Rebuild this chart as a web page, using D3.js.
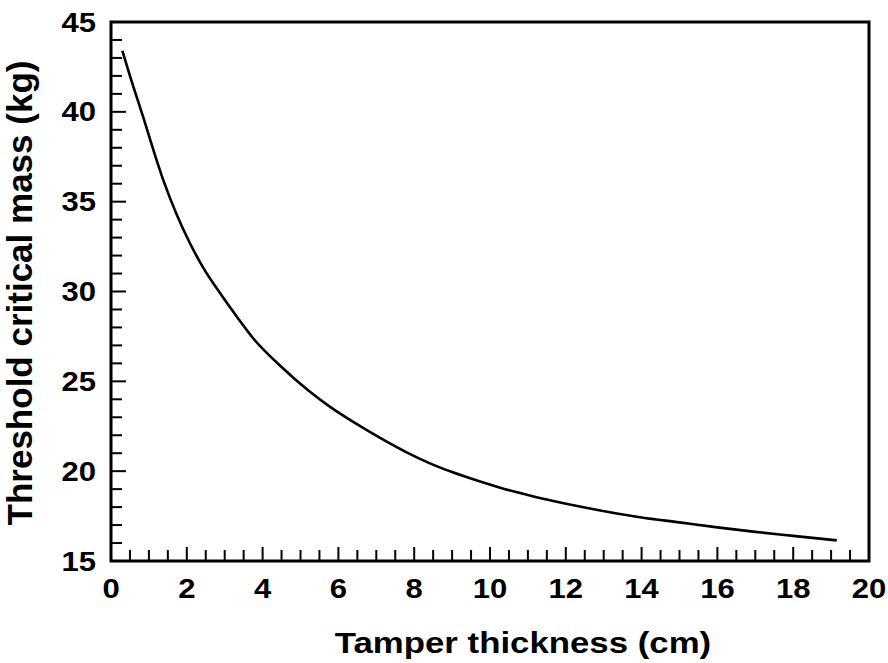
<!DOCTYPE html>
<html>
<head>
<meta charset="utf-8">
<script src="https://cdn.jsdelivr.net/npm/d3@7"></script>
<style>
  html, body { margin: 0; padding: 0; background: #fff; }
  svg { display: block; }
  text { font-family: "Liberation Sans", Arial, Helvetica, sans-serif; font-weight: bold; fill: #000; }
</style>
</head>
<body>
<svg id="chart" width="888" height="663"></svg>
<script>
// values
var thickness = [0.3, 0.5, 0.85, 1.16, 1.38, 1.73, 2.08, 2.44, 2.88, 3.32, 3.75, 4.5, 5.2, 5.8, 6.5, 7.1,
  7.8, 8.4, 9.0, 9.7, 10.4, 11.1, 11.7, 12.4, 13.2, 14.0, 15.0, 16.0, 17.0, 18.0, 19.15];
var criticalMass = [43.4, 42.0, 39.7, 37.6, 36.2, 34.3, 32.7, 31.3, 29.9, 28.6, 27.4, 25.8, 24.5, 23.55, 22.6, 21.85,
  21.05, 20.45, 19.95, 19.45, 19.0, 18.62, 18.33, 18.02, 17.7, 17.42, 17.15, 16.87, 16.62, 16.4, 16.15];
var xTickLabels = [0, 2, 4, 6, 8, 10, 12, 14, 16, 18, 20];
var yTickLabels = [15, 20, 25, 30, 35, 40, 45];
var xTitle = 'Tamper thickness (cm)';
var yTitle = 'Threshold critical mass (kg)';

var margins = { left: 111, right: 19, top: 22, bottom: 102 };
var width = 888, height = 663;

var svg = d3.select('#chart');

var xScale = d3.scaleLinear().domain([0, 20]).range([margins.left, width - margins.right]);
var yScale = d3.scaleLinear().domain([15, 45]).range([height - margins.bottom, margins.top]);

var items = thickness.map(function(t, i) { return { x: t, y: criticalMass[i] }; });

// inward ticks, minor then major
var xMinor = d3.range(0.5, 20, 0.5).filter(function(v) { return v % 2 !== 0; });
var yMinor = d3.range(16, 45, 1).filter(function(v) { return v % 5 !== 0; });

var ticks = svg.append('g').attr('stroke', '#000').attr('stroke-width', 2);
ticks.selectAll('.xminor').data(xMinor).enter().append('line')
  .attr('x1', function(d) { return xScale(d); }).attr('x2', function(d) { return xScale(d); })
  .attr('y1', yScale(15)).attr('y2', yScale(15) - 11);
ticks.selectAll('.xmajor').data(xTickLabels.slice(1, -1)).enter().append('line')
  .attr('x1', function(d) { return xScale(d); }).attr('x2', function(d) { return xScale(d); })
  .attr('y1', yScale(15)).attr('y2', yScale(15) - 14);
ticks.selectAll('.yminor').data(yMinor).enter().append('line')
  .attr('y1', function(d) { return yScale(d); }).attr('y2', function(d) { return yScale(d); })
  .attr('x1', xScale(0)).attr('x2', xScale(0) + 11);
ticks.selectAll('.ymajor').data(yTickLabels.slice(1, -1)).enter().append('line')
  .attr('y1', function(d) { return yScale(d); }).attr('y2', function(d) { return yScale(d); })
  .attr('x1', xScale(0)).attr('x2', xScale(0) + 15);

// frame
svg.append('rect')
  .attr('x', xScale(0)).attr('y', yScale(45))
  .attr('width', xScale(20) - xScale(0)).attr('height', yScale(15) - yScale(45))
  .attr('fill', 'none').attr('stroke', '#000').attr('stroke-width', 3);

// curve
var line = d3.line()
  .x(function(d) { return xScale(d.x); })
  .y(function(d) { return yScale(d.y); })
  .curve(d3.curveMonotoneX);
svg.append('path').datum(items)
  .attr('d', line)
  .attr('fill', 'none').attr('stroke', '#000').attr('stroke-width', 2.6);

// tick labels (source picture is slightly stretched horizontally)
svg.selectAll('.xlab').data(xTickLabels).enter().append('text')
  .attr('text-anchor', 'middle')
  .attr('font-size', 27)
  .attr('transform', function(d) { return 'translate(' + xScale(d) + ',598) scale(1.15,1)'; })
  .text(function(d) { return d; });
svg.selectAll('.ylab').data(yTickLabels).enter().append('text')
  .attr('text-anchor', 'end')
  .attr('font-size', 27)
  .attr('transform', function(d) { return 'translate(96,' + (yScale(d) + 9.5) + ') scale(1.15,1)'; })
  .text(function(d) { return d; });

// titles
svg.append('text')
  .attr('text-anchor', 'middle')
  .attr('font-size', 29.5)
  .attr('transform', 'translate(523,653) scale(1.18,1)')
  .text(xTitle);
svg.append('text')
  .attr('text-anchor', 'middle')
  .attr('font-size', 35)
  .attr('transform', 'translate(32,293) rotate(-90)')
  .text(yTitle);
</script>
</body>
</html>
